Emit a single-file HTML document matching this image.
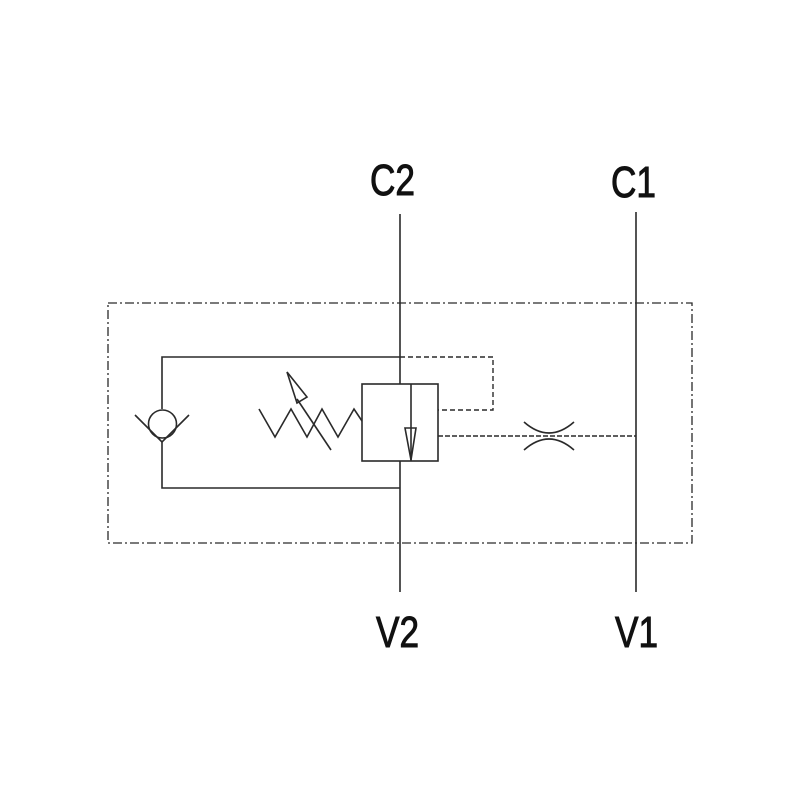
<!DOCTYPE html>
<html><head><style>body{margin:0;background:#fff}svg{display:block}</style></head>
<body>
<svg width="800" height="800" viewBox="0 0 800 800" xmlns="http://www.w3.org/2000/svg">
<rect width="800" height="800" fill="#fff"/>
<g fill="none" stroke="#2a2a2a" stroke-width="1.6">
<rect x="108" y="303" width="584" height="240" stroke-dasharray="9,3,2,3" stroke-width="1.3"/>
<line x1="400" y1="214" x2="400" y2="592"/>
<line x1="636" y1="212" x2="636" y2="592"/>
<polyline points="400,357 162,357 162,409"/>
<polyline points="162,442 162,488 400,488"/>
<circle cx="162.5" cy="424" r="14"/>
<polyline points="135,415 162,442 189,415"/>
<rect x="362" y="384" width="76" height="77" fill="#fff"/>
<line x1="411" y1="384" x2="411" y2="461"/>
<polygon points="405,428 416,428 411,460"/>
<polyline points="259,409 275,437 291,409 307,437 322,409 338,437 354,409 362,421"/>
<line x1="331" y1="450" x2="297" y2="399"/>
<polygon points="287,372 297,403 307,397"/>
<polyline points="400,357 493,357 493,410 438,410" stroke-dasharray="5,3" stroke-width="1.4"/>
<line x1="438" y1="436" x2="636" y2="436" stroke-dasharray="5,2" stroke-width="1.4"/>
<path d="M524,422 Q549,444 574,422"/>
<path d="M524,450 Q549,428 574,450"/>
</g>
<g font-family="Liberation Sans, sans-serif" font-size="44" fill="#111" stroke="#111" stroke-width="1">
<text x="370" y="195" transform="translate(370 0) scale(0.8 1) translate(-370 0)">C2</text>
<text x="611" y="197" transform="translate(611 0) scale(0.8 1) translate(-611 0)">C1</text>
<text x="376" y="647" transform="translate(376 0) scale(0.8 1) translate(-376 0)">V2</text>
<text x="615" y="647" transform="translate(615 0) scale(0.8 1) translate(-615 0)">V1</text>
</g>
</svg>
</body></html>
